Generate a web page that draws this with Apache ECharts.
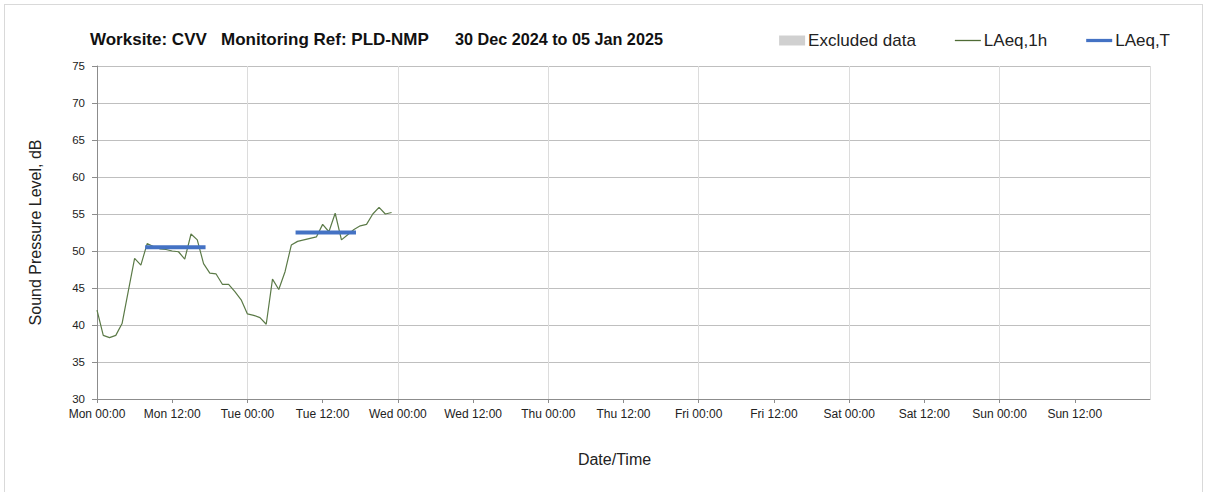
<!DOCTYPE html>
<html>
<head>
<meta charset="utf-8">
<script src="https://cdn.jsdelivr.net/npm/echarts@6/dist/echarts.min.js"></script>
<style>
html,body{margin:0;padding:0;background:#fff;}
#frame{position:absolute;left:4px;top:4px;width:1199px;height:495px;border:1px solid #d9d9d9;box-sizing:border-box;}
#chart{position:absolute;left:0;top:0;width:1208px;height:492px;}
</style>
</head>
<body>
<div id="frame"></div>
<div id="chart"></div>
<script>
// Day names for tick labels (axis starts Mon 30 Dec 2024 00:00)
var dayNames = ['Mon','Tue','Wed','Thu','Fri','Sat','Sun'];
// Hourly LAeq,1h values from Mon 00:00, dB
var laeq1h = [42.0,38.6,38.3,38.6,40.2,44.6,49.0,48.1,51.0,50.6,50.3,50.2,
              50.0,49.9,48.9,52.3,51.5,48.3,47.0,46.9,45.5,45.5,44.5,43.4,
              41.5,41.3,41.0,40.1,46.2,44.8,47.2,50.8,51.3,51.5,51.7,51.9,
              53.6,52.6,55.1,51.5,52.2,52.9,53.4,53.6,55.0,55.9,55.0,55.2];
// LAeq,T periods: [start hour, end hour, level dB]
var laeqT = [[8,17,50.5],[32,41,52.5]];

var font = 'Liberation Sans, Arial, sans-serif';
var chart = echarts.init(document.getElementById('chart'), null, {renderer:'svg'});

var lineData = laeq1h.map(function(v,i){return [i,v];});
var tSeries = laeqT.map(function(p){
  return {name:'LAeq,T', type:'line', xAxisIndex:1, symbol:'none', silent:true,
    lineStyle:{color:'#4472c4', width:4, cap:'square'}, itemStyle:{color:'#4472c4'},
    data:[[p[0],p[2]],[p[1],p[2]]], z:5};
});

chart.setOption({
  animation:false,
  title:[
    {text:'Worksite: CVV', left:90, top:31, padding:0, textStyle:{fontFamily:font,fontSize:17,fontWeight:'bold',color:'#111'}},
    {text:'Monitoring Ref: PLD-NMP', left:221, top:31, padding:0, textStyle:{fontFamily:font,fontSize:17,fontWeight:'bold',color:'#111'}},
    {text:'30 Dec 2024 to 05 Jan 2025', left:455, top:31, padding:0, textStyle:{fontFamily:font,fontSize:16.2,fontWeight:'bold',color:'#111'}}
  ],
  legend:{
    right:38, top:32, padding:0, itemGap:39, itemWidth:26, itemHeight:10,
    textStyle:{fontFamily:font,fontSize:17,color:'#222',padding:[0,0,0,-2]},
    data:[
      {name:'Excluded data', icon:'rect'},
      {name:'LAeq,1h', icon:'path://M0,0 L26,0 L26,1.3 L0,1.3 Z'},
      {name:'LAeq,T', icon:'path://M0,0 L28,0 L28,3.5 L0,3.5 Z'}
    ]
  },
  grid:{left:97, right:58, top:66, bottom:93, containLabel:false},
  xAxis:[
    {type:'value', min:0, max:168, interval:12,
     name:'Date/Time', nameLocation:'middle', nameGap:52,
     nameTextStyle:{fontFamily:font,fontSize:16,color:'#222',padding:[0,18,0,0]},
     axisLine:{show:true,lineStyle:{color:'#8c8c8c'}},
     axisTick:{show:true,length:4,lineStyle:{color:'#8c8c8c'}},
     axisLabel:{fontFamily:font,fontSize:12,color:'#222',margin:9,showMaxLabel:false,
       formatter:function(v){var d=Math.floor(v/24);var h=v%24;return dayNames[d%7]+' '+(h<10?'0':'')+h+':00';}},
     splitLine:{show:false}},
    {type:'value', min:0, max:168, interval:24, position:'bottom',
     axisLine:{show:false}, axisTick:{show:false}, axisLabel:{show:false},
     splitLine:{show:true,lineStyle:{color:'#dcdcdc',width:1}}}
  ],
  yAxis:{type:'value', min:30, max:75, interval:5,
    name:'Sound Pressure Level, dB', nameLocation:'middle', nameGap:54, nameRotate:90,
    nameTextStyle:{fontFamily:font,fontSize:16,color:'#222'},
    axisLine:{show:true,lineStyle:{color:'#8c8c8c'}},
    axisTick:{show:true,length:5,lineStyle:{color:'#8c8c8c'}},
    axisLabel:{fontFamily:font,fontSize:11.5,color:'#222',margin:12},
    splitLine:{show:true,lineStyle:{color:'#bfbfbf',width:1}}},
  series:[
    {name:'Excluded data', type:'bar', data:[], itemStyle:{color:'#d0d0d0'}},
    {name:'LAeq,1h', type:'line', symbol:'none', data:lineData,
     lineStyle:{color:'#5b7a47',width:1.2}, itemStyle:{color:'#4f6b35'}, z:4}
  ].concat(tSeries)
});
</script>
</body>
</html>
